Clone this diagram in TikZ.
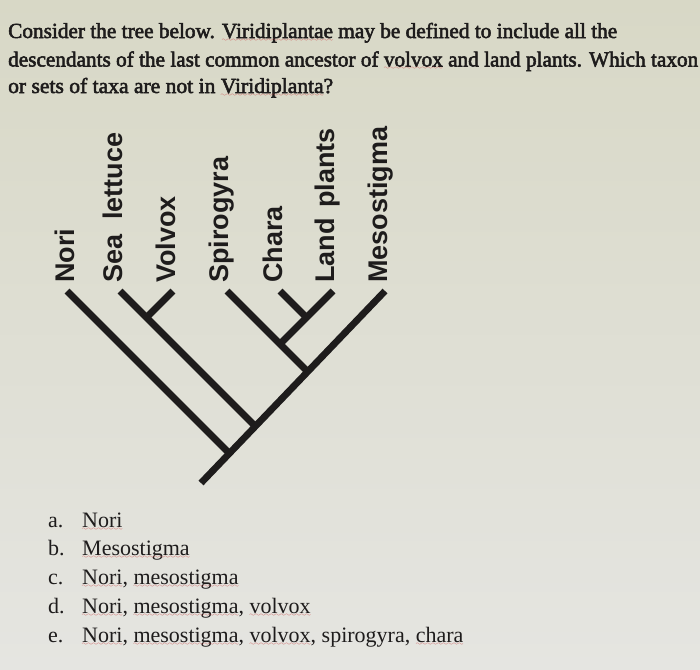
\documentclass[tikz,border=0pt]{standalone}
\usepackage{fontspec}
\setmainfont{Liberation Serif}
\newfontfamily\headfont[FakeBold=2.5]{Liberation Serif}
\newfontfamily\taxfont{Liberation Sans}
\usepackage{graphicx}
\definecolor{paper}{RGB}{216,216,198}
\definecolor{paperlow}{RGB}{229,229,225}
\definecolor{ink}{RGB}{30,28,28}
\definecolor{spellred}{RGB}{205,70,70}
% red spell-check wave under a word
\font\wavefont=lasy6
\newcommand\spell[1]{\setbox0\hbox{#1}\rlap{\copy0}%
    \hbox to\wd0{\textcolor{spellred}{\lower3.2pt\hbox to\wd0{\xleaders\hbox{\wavefont\char58}\hfil}}}}

\begin{document}
\begin{tikzpicture}[x=1pt,y=-1pt,
    branch/.style={line width=6.8pt,color=ink},
    taxon/.style={rotate=90,anchor=base west,inner sep=0,text=ink,
        font=\taxfont\bfseries\fontsize{27}{27}\selectfont},
    headline/.style={anchor=base west,inner sep=0,text=ink,
        font=\headfont\fontsize{21.5}{26}\selectfont},
    choice/.style={anchor=base west,inner sep=0,text=ink,
        font=\fontsize{22}{26}\selectfont}]
    \useasboundingbox (0,0) rectangle (700,669);
    \shade[top color=paper,bottom color=paperlow] (0,0) rectangle (700,669);

    % question text
    \node[headline] (qOne) at (8,38)
        {\resizebox{609pt}{\height}{Consider the tree below. \spell{Viridiplantae} may be defined to include all the}};
    \node[headline] (qTwo) at (8,66.5)
        {\resizebox{690pt}{\height}{descendants of the last common ancestor of \spell{volvox} and land plants. Which taxon}};
    \node[headline] (qThree) at (8,93)
        {\resizebox{325pt}{\height}{or sets of taxa are not in \spell{Viridiplanta}?}};

    % tips of the tree
    \coordinate (tNori) at (67,291);
    \coordinate (tSea) at (120,291);
    \coordinate (tVolvox) at (173,291);
    \coordinate (tSpiro) at (227,291);
    \coordinate (tChara) at (280,291);
    \coordinate (tLand) at (333,291);
    \coordinate (tMeso) at (385,291);
    % joints
    \coordinate (root) at (201,483);
    \coordinate (jNori) at (229,453);
    \coordinate (jSea) at (255,426);
    \coordinate (jVolvox) at (146.5,317.5);
    \coordinate (jSpiro) at (307.5,371.5);
    \coordinate (jLand) at (280,344);
    \coordinate (jChara) at (306.5,317.5);

    \draw[branch] (root) -- (tMeso);
    \draw[branch] (jNori) -- (tNori);
    \draw[branch] (jSea) -- (tSea);
    \draw[branch] (jVolvox) -- (tVolvox);
    \draw[branch] (jSpiro) -- (tSpiro);
    \draw[branch] (jLand) -- (tLand);
    \draw[branch] (jChara) -- (tChara);

    % taxon names
    \node[taxon] (lNori) at (74,283) {Nori};
    \node[taxon] (lSea) at (122,283) {Sea\hspace{0.55em}lettuce};
    \node[taxon] (lVolvox) at (175,283) {Volvox};
    \node[taxon] (lSpiro) at (228,283) {Spirogyra};
    \node[taxon] (lChara) at (282,283) {Chara};
    \node[taxon] (lLand) at (334,283) {Land\hspace{0.4em}plants};
    \node[taxon] (lMeso) at (387,283) {Mesostigma};

    % answer choices
    \node[choice] (kA) at (48,527) {a.};
    \node[choice] (cA) at (82,527) {\spell{Nori}};
    \node[choice] (kB) at (48,555.5) {b.};
    \node[choice] (cB) at (82,555.5) {\spell{Mesostigma}};
    \node[choice] (kC) at (48,584) {c.};
    \node[choice] (cC) at (82,584) {\spell{Nori}, \spell{mesostigma}};
    \node[choice] (kD) at (48,613) {d.};
    \node[choice] (cD) at (82,613) {\spell{Nori}, \spell{mesostigma}, \spell{volvox}};
    \node[choice] (kE) at (48,642) {e.};
    \node[choice] (cE) at (82,642) {\spell{Nori}, \spell{mesostigma}, \spell{volvox}, spirogyra, \spell{chara}};
\end{tikzpicture}
\end{document}
